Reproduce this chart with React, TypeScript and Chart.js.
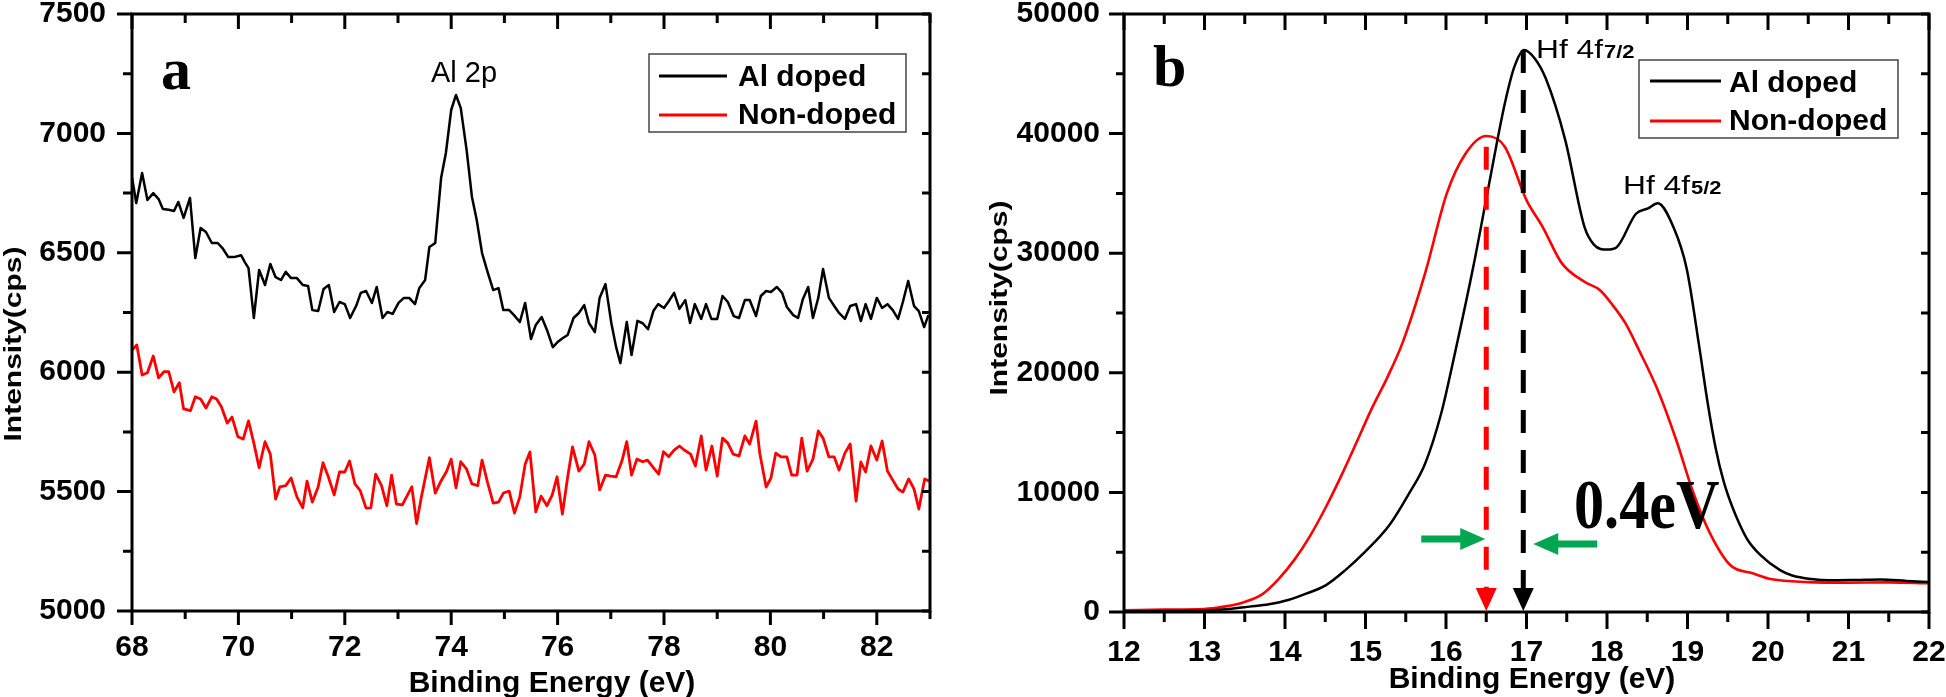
import React, { useEffect, useRef } from "react";
import { Chart, registerables } from "chart.js";

Chart.register(...registerables);

const SANS = '"Liberation Sans", Arial, Helvetica, sans-serif';
const SERIF = '"Liberation Serif", "Times New Roman", serif';
const W = 1946;
const H = 697;

const seriesNames = ["Al doped", "Non-doped"];
const seriesColors = ["#000000", "#ff0000"];
const seriesWidthsA = [2.5, 2.8];
const seriesWidthsB = [2.5, 2.6];

// ---------- Panel a : Al 2p region ----------
const aDopedEnergy = [
  68.0, 68.08, 68.19, 68.29, 68.4, 68.5, 68.58, 68.69, 68.79, 68.87, 68.97, 69.09, 69.19, 69.29, 69.39, 69.5,
  69.61, 69.7, 69.81, 69.92, 70.05, 70.12, 70.19, 70.29, 70.39, 70.5, 70.6, 70.7, 70.8, 70.89, 70.99, 71.1,
  71.21, 71.31, 71.39, 71.5, 71.6, 71.7, 71.8, 71.9, 72.0, 72.1, 72.22, 72.3, 72.4, 72.51, 72.6, 72.71,
  72.8, 72.9, 73.01, 73.11, 73.21, 73.32, 73.4, 73.51, 73.59, 73.7, 73.81, 73.9, 74.0, 74.09, 74.18, 74.29,
  74.39, 74.48, 74.58, 74.69, 74.79, 74.89, 74.98, 75.09, 75.18, 75.29, 75.39, 75.5, 75.59, 75.7, 75.8, 75.91,
  76.0, 76.1, 76.19, 76.3, 76.4, 76.5, 76.59, 76.7, 76.79, 76.9, 77.01, 77.1, 77.18, 77.3, 77.39, 77.5,
  77.6, 77.7, 77.8, 77.89, 78.0, 78.08, 78.19, 78.29, 78.4, 78.49, 78.58, 78.7, 78.79, 78.89, 79.0, 79.1,
  79.2, 79.31, 79.41, 79.52, 79.61, 79.73, 79.82, 79.92, 80.01, 80.12, 80.22, 80.31, 80.43, 80.52, 80.61, 80.71,
  80.8, 80.9, 80.99, 81.1, 81.2, 81.29, 81.4, 81.5, 81.61, 81.7, 81.79, 81.89, 82.0, 82.1, 82.2, 82.3,
  82.4, 82.49, 82.59, 82.7, 82.79, 82.89, 82.97,
];
const aDopedCounts = [
  6817, 6708, 6834, 6721, 6750, 6725, 6683, 6680, 6675, 6713, 6646, 6730, 6478, 6604, 6587, 6541,
  6541, 6520, 6482, 6482, 6490, 6461, 6436, 6227, 6428, 6365, 6453, 6398, 6386, 6420, 6394, 6394,
  6365, 6361, 6260, 6256, 6348, 6365, 6252, 6294, 6285, 6227, 6281, 6332, 6340, 6290, 6357, 6227,
  6252, 6244, 6290, 6311, 6311, 6285, 6352, 6386, 6524, 6541, 6813, 6918, 7098, 7161, 7106, 6930,
  6734, 6637, 6499, 6415, 6344, 6352, 6260, 6260, 6239, 6210, 6290, 6139, 6198, 6231, 6177, 6105,
  6126, 6143, 6156, 6227, 6248, 6281, 6206, 6168, 6311, 6369, 6206, 6105, 6038, 6210, 6072, 6215,
  6205, 6180, 6256, 6285, 6269, 6294, 6332, 6265, 6302, 6206, 6285, 6223, 6285, 6223, 6223, 6319,
  6294, 6235, 6227, 6302, 6302, 6235, 6319, 6340, 6336, 6357, 6332, 6273, 6239, 6227, 6306, 6357,
  6227, 6311, 6432, 6311, 6277, 6248, 6223, 6277, 6285, 6214, 6285, 6223, 6311, 6269, 6285, 6260,
  6223, 6294, 6382, 6277, 6256, 6189, 6239,
];
const aNonEnergy = [
  68.0, 68.09, 68.19, 68.29, 68.4, 68.5, 68.6, 68.69, 68.79, 68.89, 68.97, 69.1, 69.19, 69.29, 69.39, 69.5,
  69.59, 69.68, 69.79, 69.88, 69.99, 70.09, 70.19, 70.29, 70.39, 70.5, 70.6, 70.7, 70.78, 70.89, 70.99, 71.1,
  71.21, 71.29, 71.39, 71.5, 71.59, 71.69, 71.8, 71.9, 72.0, 72.09, 72.19, 72.29, 72.4, 72.49, 72.58, 72.69,
  72.79, 72.88, 72.97, 73.08, 73.18, 73.26, 73.35, 73.44, 73.59, 73.7, 73.8, 73.91, 74.0, 74.09, 74.18, 74.29,
  74.39, 74.5, 74.58, 74.68, 74.79, 74.89, 74.98, 75.09, 75.19, 75.29, 75.39, 75.48, 75.59, 75.69, 75.8, 75.9,
  75.99, 76.09, 76.19, 76.28, 76.4, 76.5, 76.59, 76.7, 76.79, 76.9, 77.0, 77.1, 77.21, 77.3, 77.39, 77.49,
  77.6, 77.69, 77.8, 77.9, 77.99, 78.09, 78.19, 78.29, 78.38, 78.5, 78.59, 78.7, 78.79, 78.9, 79.0, 79.1,
  79.2, 79.3, 79.41, 79.52, 79.61, 79.73, 79.8, 79.92, 80.01, 80.1, 80.2, 80.31, 80.4, 80.5, 80.59, 80.69,
  80.8, 80.9, 80.99, 81.1, 81.2, 81.29, 81.4, 81.5, 81.61, 81.7, 81.79, 81.89, 82.0, 82.1, 82.2, 82.3,
  82.4, 82.49, 82.6, 82.7, 82.79, 82.9, 82.98,
];
const aNonCounts = [
  6093, 6114, 5988, 5998, 6068, 5976, 6002, 6002, 5918, 5956, 5846, 5839, 5897, 5888, 5850, 5897,
  5888, 5855, 5787, 5812, 5730, 5720, 5796, 5703, 5600, 5709, 5657, 5469, 5520, 5525, 5557, 5478,
  5432, 5544, 5456, 5520, 5621, 5562, 5486, 5582, 5582, 5628, 5532, 5504, 5431, 5432, 5573, 5525,
  5441, 5569, 5448, 5444, 5486, 5520, 5366, 5478, 5642, 5494, 5541, 5583, 5636, 5516, 5625, 5594,
  5532, 5525, 5632, 5541, 5452, 5456, 5494, 5502, 5410, 5478, 5615, 5666, 5415, 5481, 5441, 5486,
  5562, 5406, 5562, 5687, 5586, 5615, 5709, 5653, 5507, 5569, 5565, 5562, 5629, 5709, 5569, 5636,
  5625, 5632, 5600, 5573, 5667, 5646, 5674, 5691, 5674, 5657, 5607, 5733, 5590, 5691, 5565, 5724,
  5703, 5657, 5649, 5733, 5699, 5795, 5661, 5519, 5557, 5661, 5645, 5645, 5569, 5569, 5724, 5586,
  5636, 5754, 5724, 5645, 5645, 5590, 5661, 5699, 5460, 5624, 5582, 5691, 5632, 5712, 5586, 5548,
  5511, 5498, 5553, 5511, 5427, 5553, 5544,
];
const aXTicks = [68, 70, 72, 74, 76, 78, 80, 82];
const aXMinor = [69, 71, 73, 75, 77, 79, 81, 83];
const aYTicks = [5000, 5500, 6000, 6500, 7000, 7500];
const aYMinor = [5250, 5750, 6250, 6750, 7250];

// ---------- Panel b : Hf 4f region ----------
const bDopedEnergy = [
  12.0, 12.5, 13.0, 13.3, 13.56, 13.8, 14.04, 14.27, 14.51, 14.75, 14.99, 15.3, 15.54, 15.74, 15.94, 16.1,
  16.34, 16.53, 16.73, 16.85, 16.97, 17.1, 17.24, 17.48, 17.72, 17.84, 18.0, 18.12, 18.36, 18.51, 18.63, 18.83,
  18.99, 19.15, 19.25, 19.35, 19.45, 19.55, 19.65, 19.75, 19.9, 20.15, 20.3, 20.54, 20.77, 21.1, 21.4, 21.72,
  22.0,
];
const bDopedCounts = [
  50, 80, 120, 250, 450, 650, 1000, 1550, 2250, 3500, 5000, 7300, 9900, 12400, 16600, 21300,
  28900, 35600, 42500, 45600, 47000, 46300, 44600, 39500, 32200, 30700, 30300, 30500, 33300, 33750, 34170, 32100,
  28700, 22000, 17500, 13700, 10900, 8900, 7300, 6000, 4800, 3500, 3050, 2750, 2650, 2680, 2720, 2600,
  2500,
];
const bNonEnergy = [
  12.0, 12.5, 13.0, 13.24, 13.48, 13.72, 13.92, 14.12, 14.31, 14.51, 14.71, 14.91, 15.07, 15.27, 15.46, 15.74,
  16.01, 16.24, 16.5, 16.73, 17.0, 17.2, 17.44, 17.72, 17.91, 18.07, 18.23, 18.39, 18.63, 18.86, 19.06, 19.26,
  19.53, 19.81, 20.05, 20.5, 21.0, 21.5, 22.0,
];
const bNonCounts = [
  150, 200, 250, 450, 800, 1500, 2750, 4400, 6350, 8800, 11550, 14500, 16900, 19600, 22500, 28310,
  35000, 38300, 39800, 38900, 34440, 32210, 29150, 27610, 26920, 25660, 24130, 22000, 18560, 14380, 10200, 6850,
  3930, 3240, 2730, 2500, 2450, 2480, 2400,
];
const bXTicks = [12, 13, 14, 15, 16, 17, 18, 19, 20, 21, 22];
const bXMinor = [12.5, 13.5, 14.5, 15.5, 16.5, 17.5, 18.5, 19.5, 20.5, 21.5];
const bYTicks = [0, 10000, 20000, 30000, 40000, 50000];
const bYMinor = [5000, 15000, 25000, 35000, 45000];
// peak positions marked by dashed arrows (eV) and their top values
const bNonPeak = 16.5;
const bDopedPeak = 16.96;
const bNonArrowTop = 38900;
const bDopedArrowTop = 47000;

// ---------- helpers ----------
const pts = (xs: number[], ys: number[]) => xs.map((x, i) => ({ x, y: ys[i] }));

type TxtOpts = {
  align?: CanvasTextAlign;
  baseline?: CanvasTextBaseline;
  color?: string;
  sx?: number;
  sy?: number;
  rot?: number;
};
function txt(ctx: CanvasRenderingContext2D, s: string, x: number, y: number, font: string, o: TxtOpts = {}) {
  ctx.save();
  ctx.translate(x, y);
  if (o.rot) ctx.rotate(o.rot);
  ctx.scale(o.sx ?? 1, o.sy ?? 1);
  ctx.font = font;
  ctx.fillStyle = o.color ?? "#000";
  ctx.textAlign = o.align ?? "left";
  ctx.textBaseline = o.baseline ?? "alphabetic";
  ctx.fillText(s, 0, 0);
  const w = ctx.measureText(s).width * (o.sx ?? 1);
  ctx.restore();
  return w;
}

type Spec = {
  left: number;
  right: number;
  top: number;
  bottom: number;
  yAxisWidth: number;
  xMin: number;
  xMax: number;
  yMin: number;
  yMax: number;
  xTicks: number[];
  xMinor: number[];
  yTicks: number[];
  yMinor: number[];
  xPad: number;
  yPad: number;
  tl: { lMaj: number; lMin: number; bMaj: number; bMin: number; tMaj: number; tMin: number; r: number };
  series: { x: number[]; y: number[] }[];
  widths: number[];
  smooth: boolean;
  draw: (chart: Chart) => void;
};

function drawFrame(chart: Chart, sp: Spec) {
  const ctx = chart.ctx;
  const { left, right, top, bottom } = chart.chartArea;
  const xs = chart.scales.x;
  const ys = chart.scales.y;
  ctx.save();
  ctx.strokeStyle = "#000";
  ctx.lineWidth = 3;
  ctx.lineCap = "butt";
  ctx.strokeRect(left, top, right - left, bottom - top);
  ctx.beginPath();
  const vx = (v: number, bl: number, tlen: number) => {
    const p = xs.getPixelForValue(v);
    ctx.moveTo(p, bottom);
    ctx.lineTo(p, bottom + bl);
    ctx.moveTo(p, top);
    ctx.lineTo(p, top + tlen);
  };
  sp.xTicks.forEach((v) => vx(v, sp.tl.bMaj, sp.tl.tMaj));
  sp.xMinor.forEach((v) => vx(v, sp.tl.bMin, sp.tl.tMin));
  const vy = (v: number, ll: number) => {
    const p = ys.getPixelForValue(v);
    ctx.moveTo(left - ll, p);
    ctx.lineTo(left, p);
    ctx.moveTo(right, p);
    ctx.lineTo(right - sp.tl.r, p);
  };
  sp.yTicks.forEach((v) => vy(v, sp.tl.lMaj));
  sp.yMinor.forEach((v) => vy(v, sp.tl.lMin));
  ctx.stroke();
  ctx.restore();
}

function drawLegend(
  chart: Chart,
  box: { x: number; y: number; w: number; h: number },
  lx1: number,
  lx2: number,
  lineYs: number[],
  textX: number,
  baselines: number[]
) {
  const ctx = chart.ctx;
  ctx.save();
  ctx.fillStyle = "#fff";
  ctx.fillRect(box.x, box.y, box.w, box.h);
  ctx.strokeStyle = "#444";
  ctx.lineWidth = 1.5;
  ctx.strokeRect(box.x, box.y, box.w, box.h);
  chart.data.datasets.forEach((ds: any, i: number) => {
    ctx.strokeStyle = ds.borderColor;
    ctx.lineWidth = 3;
    ctx.beginPath();
    ctx.moveTo(lx1, lineYs[i]);
    ctx.lineTo(lx2, lineYs[i]);
    ctx.stroke();
    txt(ctx, ds.label, textX, baselines[i], `bold 30px ${SANS}`);
  });
  ctx.restore();
}

function makeChart(canvas: HTMLCanvasElement, sp: Spec) {
  const tickFont = { family: SANS, size: 30, weight: "bold" as const };
  return new Chart(canvas, {
    type: "line",
    data: {
      datasets: sp.series.map((s, i) => ({
        label: seriesNames[i],
        data: pts(s.x, s.y),
        borderColor: seriesColors[i],
        backgroundColor: seriesColors[i],
        borderWidth: sp.widths[i],
        pointRadius: 0,
        fill: false,
        tension: 0,
        cubicInterpolationMode: sp.smooth ? ("monotone" as const) : ("default" as const),
        borderJoinStyle: "round" as const,
      })),
    },
    options: {
      responsive: false,
      maintainAspectRatio: false,
      animation: false,
      devicePixelRatio: 1,
      layout: { padding: { left: sp.left - sp.yAxisWidth, right: W - sp.right, top: sp.top, bottom: 0 } },
      plugins: { legend: { display: false }, tooltip: { enabled: false }, title: { display: false } },
      scales: {
        x: {
          type: "linear",
          position: "bottom",
          min: sp.xMin,
          max: sp.xMax,
          grid: { display: false, drawTicks: false },
          border: { display: false },
          ticks: {
            font: tickFont,
            color: "#000",
            padding: sp.xPad,
            maxRotation: 0,
            autoSkip: false,
            callback: (v: any) => String(v),
          },
          afterBuildTicks: (s: any) => {
            s.ticks = sp.xTicks.map((v) => ({ value: v }));
          },
          afterFit: (s: any) => {
            s.height = H - sp.bottom;
            s.paddingLeft = 0;
            s.paddingRight = 0;
          },
        },
        y: {
          type: "linear",
          position: "left",
          min: sp.yMin,
          max: sp.yMax,
          grid: { display: false, drawTicks: false },
          border: { display: false },
          ticks: { font: tickFont, color: "#000", padding: sp.yPad, callback: (v: any) => String(v) },
          afterBuildTicks: (s: any) => {
            s.ticks = sp.yTicks.map((v) => ({ value: v }));
          },
          afterFit: (s: any) => {
            s.width = sp.yAxisWidth;
            s.paddingTop = 0;
            s.paddingBottom = 0;
          },
        },
      },
    },
    plugins: [
      {
        id: "originFrame",
        afterDraw: (chart: Chart) => {
          drawFrame(chart, sp);
          sp.draw(chart);
        },
      },
    ],
  });
}

const panelA: Spec = {
  left: 132,
  right: 930,
  top: 14,
  bottom: 611,
  yAxisWidth: 132,
  xMin: 68,
  xMax: 83,
  yMin: 5000,
  yMax: 7500,
  xTicks: aXTicks,
  xMinor: aXMinor,
  yTicks: aYTicks,
  yMinor: aYMinor,
  xPad: 19,
  yPad: 26,
  tl: { lMaj: 15, lMin: 9, bMaj: 14, bMin: 8, tMaj: 15, tMin: 9, r: 8 },
  series: [
    { x: aDopedEnergy, y: aDopedCounts },
    { x: aNonEnergy, y: aNonCounts },
  ],
  widths: seriesWidthsA,
  smooth: false,
  draw: (chart) => {
    const ctx = chart.ctx;
    txt(ctx, "Intensity(cps)", 14, 344, `bold 30px ${SANS}`, {
      align: "center",
      baseline: "middle",
      rot: -Math.PI / 2,
      sy: 0.8,
    });
    txt(ctx, "Binding Energy (eV)", 552, 692, `bold 30px ${SANS}`, { align: "center" });
    txt(ctx, "a", 161, 89, `bold 60px ${SERIF}`);
    txt(ctx, "Al 2p", 464, 82, `29px ${SANS}`, { align: "center" });
    drawLegend(chart, { x: 649, y: 54, w: 257, h: 78 }, 659, 727, [76, 115], 738, [86, 124]);
  },
};

const panelB: Spec = {
  left: 1124,
  right: 1929,
  top: 14,
  bottom: 612,
  yAxisWidth: 164,
  xMin: 12,
  xMax: 22,
  yMin: 0,
  yMax: 50000,
  xTicks: bXTicks,
  xMinor: bXMinor,
  yTicks: bYTicks,
  yMinor: bYMinor,
  xPad: 23,
  yPad: 24,
  tl: { lMaj: 15, lMin: 8, bMaj: 17, bMin: 10, tMaj: 16, tMin: 10, r: 8 },
  series: [
    { x: bDopedEnergy, y: bDopedCounts },
    { x: bNonEnergy, y: bNonCounts },
  ],
  widths: seriesWidthsB,
  smooth: true,
  draw: (chart) => {
    const ctx = chart.ctx;
    const xs = chart.scales.x;
    const ys = chart.scales.y;
    txt(ctx, "Intensity(cps)", 1000, 298, `bold 30px ${SANS}`, {
      align: "center",
      baseline: "middle",
      rot: -Math.PI / 2,
      sy: 0.8,
    });
    txt(ctx, "Binding Energy (eV)", 1532, 688, `bold 30px ${SANS}`, { align: "center" });
    txt(ctx, "b", 1153, 86, `bold 60px ${SERIF}`);

    // peak labels
    let w = txt(ctx, "Hf 4f", 1536, 58, `26px ${SANS}`, { sx: 1.22 });
    txt(ctx, "7/2", 1536 + w + 1, 58, `bold 18px ${SANS}`, { sx: 1.22 });
    w = txt(ctx, "Hf 4f", 1623, 194, `26px ${SANS}`, { sx: 1.22 });
    txt(ctx, "5/2", 1623 + w + 1, 194, `bold 18px ${SANS}`, { sx: 1.22 });

    // dashed arrows
    const bottom = chart.chartArea.bottom;
    const arrow = (ev: number, topVal: number, color: string) => {
      const x = xs.getPixelForValue(ev);
      const yTop = ys.getPixelForValue(topVal);
      const headBase = bottom - 24;
      ctx.save();
      ctx.strokeStyle = color;
      ctx.lineWidth = 5;
      ctx.setLineDash([23, 17]);
      ctx.beginPath();
      ctx.moveTo(x, yTop);
      ctx.lineTo(x, headBase);
      ctx.stroke();
      ctx.setLineDash([]);
      ctx.fillStyle = color;
      ctx.beginPath();
      ctx.moveTo(x - 10.5, headBase);
      ctx.lineTo(x + 10.5, headBase);
      ctx.lineTo(x, bottom - 1);
      ctx.closePath();
      ctx.fill();
      ctx.restore();
      return x;
    };
    const xr = arrow(bNonPeak, bNonArrowTop, "#ff0000");
    const xb = arrow(bDopedPeak, bDopedArrowTop, "#000000");

    // green arrows
    const green = (tipX: number, tailX: number, y: number) => {
      const dir = Math.sign(tipX - tailX);
      const headLen = 25;
      const baseX = tipX - dir * headLen;
      ctx.save();
      ctx.fillStyle = "#00a650";
      ctx.beginPath();
      ctx.moveTo(tailX, y - 3.5);
      ctx.lineTo(baseX, y - 3.5);
      ctx.lineTo(baseX, y - 11);
      ctx.lineTo(tipX, y);
      ctx.lineTo(baseX, y + 11);
      ctx.lineTo(baseX, y + 3.5);
      ctx.lineTo(tailX, y + 3.5);
      ctx.closePath();
      ctx.fill();
      ctx.restore();
    };
    green(xr - 1, xr - 65, 539);
    green(xb + 10, xb + 74, 544);

    txt(ctx, "0.4eV", 1574, 528, `bold 70px ${SERIF}`, { sx: 0.86 });
    drawLegend(chart, { x: 1639, y: 60, w: 259, h: 78 }, 1650, 1721, [81, 121], 1729, [92, 130]);
  },
};

export default function App() {
  const aRef = useRef<HTMLCanvasElement>(null);
  const bRef = useRef<HTMLCanvasElement>(null);
  useEffect(() => {
    const ca = makeChart(aRef.current as HTMLCanvasElement, panelA);
    const cb = makeChart(bRef.current as HTMLCanvasElement, panelB);
    return () => {
      ca.destroy();
      cb.destroy();
    };
  }, []);
  const cs: React.CSSProperties = { position: "absolute", left: 0, top: 0, width: W, height: H };
  return (
    <div style={{ position: "absolute", left: 0, top: 0, width: W, height: H, background: "#fff", overflow: "hidden" }}>
      <canvas ref={aRef} width={W} height={H} style={cs} />
      <canvas ref={bRef} width={W} height={H} style={cs} />
    </div>
  );
}
